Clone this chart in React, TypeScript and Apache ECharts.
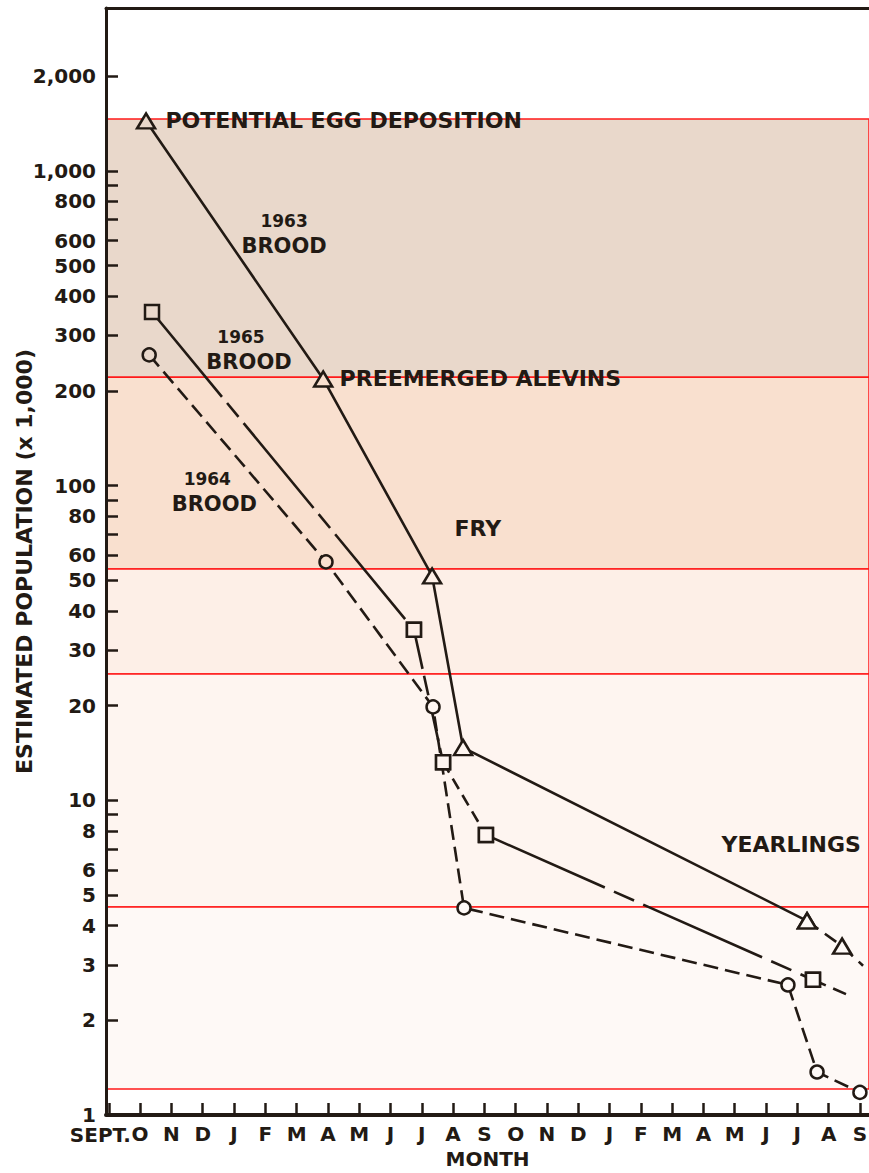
import React, { useEffect, useRef } from 'react';
import * as echarts from 'echarts';

// ---------- data ----------
const monthLabels = ['SEPT.', 'O', 'N', 'D', 'J', 'F', 'M', 'A', 'M', 'J', 'J', 'A', 'S', 'O', 'N', 'D', 'J', 'F', 'M', 'A', 'M', 'J', 'J', 'A', 'S'];
const monthTicks = monthLabels.map((_, i) => i);

const yTickValues = [1, 2, 3, 4, 5, 6, 7, 8, 9, 10, 20, 30, 40, 50, 60, 70, 80, 90, 100, 200, 300, 400, 500, 600, 700, 800, 900, 1000, 2000];
const yLabelValues = [1, 2, 3, 4, 5, 6, 8, 10, 20, 30, 40, 50, 60, 80, 100, 200, 300, 400, 500, 600, 800, 1000, 2000];

const brood1963Month = [1.19, 6.85, 10.33, 11.32, 22.31, 23.43, 24.1];
const brood1963Value = [1440, 218, 51.6, 14.7, 4.14, 3.44, 2.98];

const brood1965Month = [1.38, 9.75, 10.68, 12.05, 22.5, 23.56];
const brood1965Value = [356, 34.8, 13.2, 7.76, 2.69, 2.42];

const brood1964Month = [1.29, 6.94, 10.36, 11.35, 21.7, 22.63, 24.0];
const brood1964Value = [260, 57.2, 19.8, 4.55, 2.59, 1.37, 1.18];

const stageBounds = [1460, 221, 54.3, 25.2, 4.58, 1.21];
const stageColors = ['#E9D8CB', '#F9E0CF', '#FDEFE7', '#FEF5F0', '#FEF9F6'];

const pointLabels1963 = ['POTENTIAL EGG DEPOSITION', 'PREEMERGED ALEVINS'];

const freeLabelText = ['FRY', 'YEARLINGS'];
const freeLabelMonth = [11.03, 19.56];
const freeLabelValue = [72.8, 7.26];

const broodYears = ['1963', '1965', '1964'];
const broodLabelMonth = [5.6, 4.48, 3.37];
const broodLabelValue = [630, 271, 96];

// ---------- styles ----------
const INK = '#221a14';
const FONT = 'DejaVu Sans';
const X_MIN = -0.09;
const X_MAX = 24.29;
const pointLabelDistance = [9, 6];
const broodYearShift = [0, 8, 7];

function bandFill(v: number): string {
  for (let i = 0; i < stageColors.length; i++) {
    if (v <= stageBounds[i] && v > stageBounds[i + 1]) return stageColors[i];
  }
  return '#ffffff';
}

function segment(
  months: number[],
  values: number[],
  from: number,
  to: number,
  dash: any,
  symbol: string,
  size: any,
  noSymbolIdx: number[] = [],
  labels: Record<number, any> = {}
) {
  const data: any[] = [];
  for (let i = from; i <= to; i++) {
    const item: any = {
      value: [months[i], values[i]],
      itemStyle: { color: bandFill(values[i]), borderColor: INK, borderWidth: 2.5 },
    };
    if (noSymbolIdx.indexOf(i) >= 0) item.symbol = 'none';
    if (labels[i]) item.label = labels[i];
    data.push(item);
  }
  return {
    type: 'line',
    data,
    symbol,
    symbolSize: size,
    showSymbol: true,
    z: 3,
    clip: false,
    silent: true,
    lineStyle: { color: INK, width: 2.6, type: dash, cap: 'butt' },
    itemStyle: { borderColor: INK, borderWidth: 2.5 },
  };
}

const tri: any = [18, 15];

const labels1963: Record<number, any> = {};
pointLabels1963.forEach((t, i) => {
  labels1963[i] = {
    show: true,
    position: 'right',
    distance: pointLabelDistance[i],
    formatter: t,
    color: INK,
    fontFamily: FONT,
    fontSize: 22,
    fontWeight: 'bold',
  };
});

const series: any[] = [
  {
    type: 'line',
    data: [],
    z: 1,
    silent: true,
    markArea: {
      silent: true,
      z: 1,
      data: stageColors.map((c, i) => [
        { yAxis: stageBounds[i], itemStyle: { color: c, borderColor: '#ff1a1a', borderWidth: 1.5 } },
        { yAxis: stageBounds[i + 1] },
      ]),
    },
  },
  // 1964 brood (circles, dashed)
  segment(brood1964Month, brood1964Value, 0, brood1964Month.length - 1, [15, 7], 'circle', 13),
  // 1965 brood (squares, mixed dashes)
  segment(brood1965Month, brood1965Value, 0, 1, [110, 8, 18, 8], 'rect', 14),
  segment(brood1965Month, brood1965Value, 1, 2, [40, 7, 20, 7], 'rect', 14),
  segment(brood1965Month, brood1965Value, 2, 3, [12, 7], 'rect', 14),
  segment(brood1965Month, brood1965Value, 3, 4, [130, 10, 22, 10], 'rect', 14),
  segment(brood1965Month, brood1965Value, 4, 5, [14, 8], 'rect', 14, [5]),
  // 1963 brood (triangles)
  segment(brood1963Month, brood1963Value, 0, 4, 'solid', 'triangle', tri, [], labels1963),
  segment(brood1963Month, brood1963Value, 4, 6, [14, 8], 'triangle', tri, [6]),
  // brood labels
  {
    type: 'scatter',
    symbol: 'circle',
    symbolSize: 1,
    z: 4,
    silent: true,
    itemStyle: { color: 'rgba(0,0,0,0)', opacity: 1 },
    data: broodYears.map((y, i) => ({
      value: [broodLabelMonth[i], broodLabelValue[i]],
      label: {
        show: true,
        position: 'inside',
        opacity: 1,
        formatter: `{y|${y}}\n{b|BROOD}`,
        rich: {
          y: { fontFamily: FONT, fontSize: 17, fontWeight: 'bold', color: INK, lineHeight: 25, padding: [0, broodYearShift[i] * 2, 0, 0] },
          b: { fontFamily: FONT, fontSize: 21, fontWeight: 'bold', color: INK, lineHeight: 25 },
        },
      },
    })),
  },
  // stage labels
  {
    type: 'scatter',
    symbol: 'circle',
    symbolSize: 1,
    z: 4,
    silent: true,
    itemStyle: { color: 'rgba(0,0,0,0)', opacity: 1 },
    label: {
      show: true,
      position: 'right',
      distance: 0,
      opacity: 1,
      color: INK,
      fontFamily: FONT,
      fontSize: 22,
      fontWeight: 'bold',
      formatter: (p: any) => freeLabelText[p.dataIndex],
    },
    data: freeLabelText.map((_, i) => [freeLabelMonth[i], freeLabelValue[i]]),
  },
];

function fmtY(v: number): string {
  const n = Math.round(v);
  if (n >= 1000) return `${Math.floor(n / 1000)},${String(n % 1000).padStart(3, '0')}`;
  return String(n);
}

const labelFont = { color: INK, fontSize: 20, fontWeight: 'bold', fontFamily: FONT };

const option: any = {
  animation: false,
  textStyle: { fontFamily: FONT },
  grid: { left: 106, right: 0, top: 8, bottom: 58, containLabel: false, outerBoundsMode: 'none' },
  xAxis: [
    {
      type: 'value',
      min: X_MIN,
      max: X_MAX,
      position: 'bottom',
      z: 5,
      name: 'MONTH',
      nameLocation: 'middle',
      nameGap: 34,
      nameTextStyle: { ...labelFont },
      axisLine: { show: true, onZero: false, lineStyle: { color: INK, width: 4 } },
      axisTick: { show: true, inside: true, length: 12, lineStyle: { color: INK, width: 2.5 }, customValues: monthTicks },
      axisLabel: {
        show: true,
        customValues: monthTicks.slice(1),
        showMinLabel: true,
        showMaxLabel: true,
        hideOverlap: false,
        margin: 9,
        lineHeight: 20,
        ...labelFont,
        formatter: (v: number) => monthLabels[Math.round(v)] ?? '',
      },
      splitLine: { show: false },
    },
    {
      type: 'value',
      min: X_MIN,
      max: X_MAX,
      position: 'top',
      z: 5,
      axisLine: { show: true, onZero: false, lineStyle: { color: INK, width: 3 } },
      axisTick: { show: false },
      axisLabel: { show: false },
      splitLine: { show: false },
    },
    {
      // first month label ("SEPT.") on its own axis so it never collides with "O"
      type: 'value',
      min: X_MIN,
      max: X_MAX,
      position: 'bottom',
      z: 5,
      axisLine: { show: false, onZero: false },
      axisTick: { show: false },
      axisLabel: {
        show: true,
        customValues: monthTicks.slice(0, 1),
        showMinLabel: true,
        margin: 10,
        ...labelFont,
        formatter: (v: number) => `{s|${monthLabels[Math.round(v)]}}{p|}`,
        rich: {
          s: { ...labelFont, lineHeight: 20 },
          p: { width: 17, height: 10 },
        },
      },
      splitLine: { show: false },
    },
  ],
  yAxis: {
    type: 'log',
    logBase: 10,
    min: 1,
    max: 3290,
    z: 5,
    name: 'ESTIMATED POPULATION (x 1,000)',
    nameLocation: 'middle',
    nameRotate: 90,
    nameGap: 71,
    nameMoveOverlap: false,
    nameTextStyle: { color: INK, fontSize: 22, fontWeight: 'bold', fontFamily: FONT },
    axisLine: { show: true, onZero: false, lineStyle: { color: INK, width: 3 } },
    axisTick: { show: true, inside: true, length: 12, lineStyle: { color: INK, width: 2.5 }, customValues: yTickValues },
    axisLabel: {
      show: true,
      customValues: yLabelValues,
      showMinLabel: true,
      showMaxLabel: true,
      margin: 10,
      lineHeight: 18,
      padding: [0, 0, 6, 0],
      ...labelFont,
      formatter: (v: number) => fmtY(v),
    },
    splitLine: { show: false },
    minorTick: { show: false },
  },
  series,
};

export default function App() {
  const ref = useRef<HTMLDivElement>(null);
  useEffect(() => {
    if (!ref.current) return;
    const chart = echarts.init(ref.current, null, { renderer: 'svg' });
    chart.setOption(option);
    return () => chart.dispose();
  }, []);
  return <div ref={ref} style={{ position: 'absolute', left: 0, top: 0, width: 869, height: 1173 }} />;
}
